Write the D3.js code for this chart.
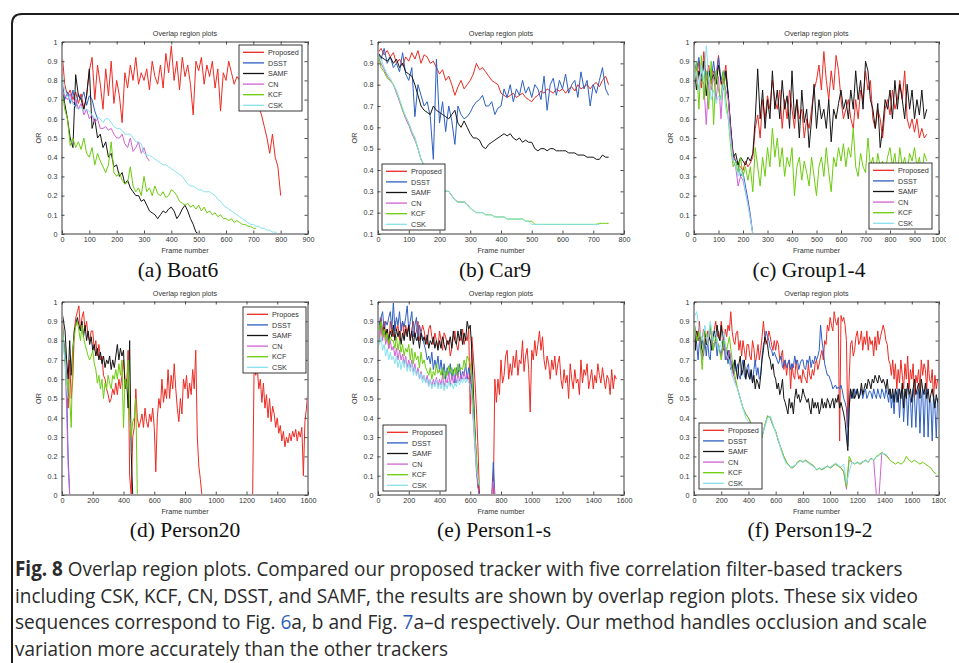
<!DOCTYPE html>
<html><head><meta charset="utf-8">
<script src="https://cdn.jsdelivr.net/npm/d3@7"></script>
<style>html,body{margin:0;padding:0;background:#fff;}svg{display:block;}</style>
</head><body><svg id="fig" width="959" height="663"></svg>
<script>
// ---------------- DATA ----------------
const seriesNames = ["Proposed","DSST","SAMF","CN","KCF","CSK"];
const seriesNamesD = ["Propoes","DSST","SAMF","CN","KCF","CSK"];
const yTicks01 = [0,0.1,0.2,0.3,0.4,0.5,0.6,0.7,0.8,0.9,1];
const yTicksCar9 = [0.1,0.2,0.3,0.4,0.5,0.6,0.7,0.8,0.9,1];
const xTicks900 = [0,100,200,300,400,500,600,700,800,900];
const xTicks800 = [0,100,200,300,400,500,600,700,800];
const xTicks1000 = [0,100,200,300,400,500,600,700,800,900,1000];
const xTicks1600 = [0,200,400,600,800,1000,1200,1400,1600];
const xTicks1800 = [0,200,400,600,800,1000,1200,1400,1600,1800];
const panelCaptions = ["(a) Boat6","(b) Car9","(c) Group1-4","(d) Person20","(e) Person1-s","(f) Person19-2"];
const frameStep = 10;       // frames between samples
const frameStepSmooth = 20; // for smooth series in Person19-2

// (a) Boat6
const boat6Proposed = [.95,.78,.72,.75,.70,.74,.68,.73,.65,.72,
.85,.92,.70,.88,.78,.65,.86,.72,.90,.68,
.80,.72,.58,.84,.76,.88,.80,.92,.78,.84,
.80,.86,.75,.90,.82,.78,.88,.76,.94,.84,
.98,.80,.90,.75,.92,.82,.88,.78,.62,.90,
.85,.92,.78,.88,.82,.90,.76,.86,.64,.84,
.80,.90,.84,.78,.82,.80,.76,.78,.74,.72,
.70,.68,.66,.62,.56,.50,.42,.52,.40,.35,.20];
const boat6DSST = [.80,.70,.74,.68,.75,.66,.73,.70,.74,.67,.72,.70,.64,.60];
const boat6SAMF = [.75,.68,.60,.50,.45,.83,.72,.70,.65,.72,
.86,.55,.60,.50,.52,.45,.48,.40,.42,.35,
.36,.30,.32,.26,.28,.24,.22,.20,.20,.17,
.18,.15,.12,.11,.10,.08,.10,.12,.11,.13,
.14,.12,.08,.10,.13,.15,.12,.08,.05,.01,0];
const boat6CN = [.75,.72,.70,.73,.68,.70,.65,.68,.62,.65,
.60,.62,.58,.60,.55,.55,.56,.54,.55,.52,
.50,.50,.52,.47,.45,.50,.43,.45,.48,.42,.45,.40,.38];
const boat6KCF = [.75,.65,.60,.46,.50,.45,.48,.44,.50,.42,
.40,.45,.36,.42,.38,.35,.32,.36,.48,.32,
.30,.32,.28,.26,.27,.35,.25,.22,.24,.20,
.30,.22,.24,.20,.25,.21,.20,.22,.19,.20,
.23,.22,.20,.17,.16,.15,.16,.14,.15,.13,
.15,.12,.14,.11,.12,.10,.11,.09,.10,.08,
.08,.07,.08,.06,.07,.06,.05,.05,.04,.04,.03,.03];
const boat6CSK = [.85,.75,.72,.70,.68,.66,.65,.66,.64,.65,
.64,.62,.60,.61,.60,.58,.60,.60,.58,.56,
.55,.55,.54,.52,.52,.52,.50,.48,.48,.47,
.42,.41,.41,.40,.39,.38,.37,.36,.36,.35,
.34,.33,.32,.31,.30,.28,.26,.25,.25,.24,
.23,.23,.22,.22,.22,.21,.20,.18,.17,.15,
.14,.13,.12,.11,.10,.09,.08,.07,.06,.05,
.05,.04,.04,.03,.03,.02,.02,.01,.01,0,0];

// (b) Car9
const car9Proposed = [.95,.97,.94,.96,.93,.95,.90,.92,.89,.93,
.91,.95,.92,.96,.90,.94,.93,.90,.91,.88,
.85,.87,.82,.84,.80,.75,.79,.82,.78,.80,
.82,.85,.90,.87,.88,.86,.84,.82,.81,.80,
.76,.75,.74,.75,.76,.74,.75,.76,.74,.73,
.72,.74,.75,.77,.76,.78,.77,.76,.78,.77,
.78,.76,.78,.79,.77,.80,.78,.79,.80,.78,
.80,.81,.79,.82,.84,.80];
const car9DSST = [.95,.92,.97,.90,.93,.88,.90,.86,.95,.85,
.82,.88,.65,.80,.75,.70,.72,.65,.45,.92,
.62,.72,.58,.70,.63,.52,.70,.66,.64,.65,
.67,.70,.72,.73,.75,.70,.70,.72,.66,.69,
.70,.78,.74,.80,.72,.78,.75,.82,.76,.79,
.74,.80,.78,.73,.84,.68,.80,.83,.75,.82,
.78,.85,.76,.80,.82,.74,.86,.78,.82,.70,
.80,.76,.82,.88,.78,.75];
const car9SAMF = [.95,.93,.92,.91,.93,.90,.92,.88,.90,.86,
.85,.84,.80,.75,.70,.68,.67,.66,.70,.68,
.67,.66,.65,.64,.66,.68,.62,.60,.63,.60,
.57,.55,.55,.54,.51,.50,.52,.53,.54,.55,
.56,.57,.56,.57,.55,.54,.55,.53,.54,.53,
.53,.50,.49,.50,.50,.49,.50,.50,.49,.49,
.49,.49,.48,.48,.48,.47,.47,.47,.46,.46,
.46,.45,.45,.47,.46,.46];
const car9CN = [.93,.90,.87,.84,.82,.80,.76,.72,.68,.64,
.61,.57,.54,.50,.45,.42,.40,.37,.35,.33,
.32,.31,.30,.30,.28,.26,.25,.25,.25,.24,.22];
const car9KCF = [.95,.88,.86,.83,.82,.80,.77,.73,.68,.65,
.62,.58,.55,.50,.45,.42,.40,.37,.35,.33,
.32,.31,.30,.30,.28,.26,.25,.25,.25,.24,
.22,.21,.20,.20,.20,.19,.19,.19,.18,.18,
.18,.18,.17,.17,.17,.17,.17,.17,.16,.16,
.16,.145,.145,.145,.145,.145,.145,.145,.145,.145,
.145,.145,.145,.145,.145,.145,.145,.145,.145,.145,
.145,.145,.15,.15,.15,.15];
const car9CSK = [.93,.92,.88,.85,.83,.80,.77,.73,.69,.65,
.62,.58,.55,.50,.45,.42,.40,.37,.35,.33,
.32,.31,.30,.30,.28,.26,.25,.25,.25,.24,
.22,.21,.20,.20,.20,.19,.19,.19,.18,.18,
.18,.18,.17,.17,.17,.17,.17,.17,.16,.16,
.145,.145,.145,.145,.145,.145,.145,.145,.145,.145,
.145,.145,.145,.145,.145,.145,.145,.145,.145,.145,
.145,.145,.145];

// (c) Group1-4
const groupProposed = [.85,.80,.90,.76,.95,.80,.88,.78,.85,.82,
.93,.78,.80,.88,.70,.55,.42,.38,.36,.35,
.33,.38,.35,.37,.40,.55,.62,.50,.70,.60,
.72,.65,.80,.70,.65,.75,.55,.70,.60,.75,
.65,.55,.70,.60,.65,.50,.60,.55,.65,.75,
.80,.88,.75,.95,.80,.70,.85,.75,.93,.85,
.70,.60,.65,.70,.60,.55,.70,.60,.75,.70,
.85,.75,.80,.60,.55,.65,.60,.50,.65,.70,
.62,.75,.65,.70,.80,.70,.85,.60,.55,.60,
.53,.60,.50,.55,.50,.52];
const groupDSST = [.90,.85,.92,.80,.88,.82,.85,.80,.90,.78,
.92,.80,.85,.82,.72,.55,.40,.38,.36,.30,
.32,.25,.18,.10,0];
const groupSAMF = [.88,.75,.85,.80,.90,.72,.85,.80,.83,.78,
.88,.80,.75,.85,.72,.55,.40,.42,.36,.40,
.38,.36,.40,.38,.42,.60,.86,.60,.75,.55,
.70,.60,.85,.65,.75,.60,.80,.65,.72,.55,
.85,.60,.70,.50,.75,.58,.65,.45,.60,.78,
.55,.70,.60,.65,.55,.70,.48,.65,.60,.68,
.75,.65,.70,.60,.75,.65,.85,.70,.80,.65,
.90,.85,.70,.65,.55,.68,.45,.55,.70,.65,
.75,.60,.80,.65,.78,.70,.60,.78,.65,.75,
.60,.70,.62,.75,.60,.65];
const groupCN = [.85,.80,.75,.82,.78,.57,.80,.75,.82,.70,
.82,.60,.80,.75,.70,.52,.38,.35,.25,.30,
.28,.22,.16,.08,0];
const groupKCF = [.75,.90,.65,.93,.70,.85,.65,.90,.57,.85,
.75,.70,.85,.70,.60,.45,.35,.38,.32,.40,
.30,.35,.28,.35,.22,.45,.35,.25,.40,.30,
.45,.35,.55,.40,.50,.35,.45,.30,.40,.35,
.45,.20,.35,.40,.28,.38,.32,.25,.40,.30,
.20,.35,.40,.30,.45,.32,.22,.40,.35,.45,
.38,.47,.35,.45,.40,.55,.35,.30,.42,.35,
.32,.50,.35,.40,.30,.42,.35,.38,.32,.40,
.45,.35,.42,.30,.45,.35,.40,.32,.42,.38,
.45,.35,.40,.30,.42,.38];
const groupCSK = [.80,.85,.75,.88,.80,.98,.82,.70,.75,.68,
.72,.70,.78,.65,.60,.48,.38,.36,.30,.34,
.30,.22,.15,.08,0];

// (d) Person20
const person20Proposed = [.95,.80,.70,.60,.45,.70,.50,.60,.85,.92,
.95,.98,.85,.92,.95,.85,.90,.82,.80,.85,
.85,.75,.80,.72,.78,.70,.72,.62,.60,.55,
.52,.48,.50,.55,.52,.58,.52,.60,.55,.62,
.70,.60,.55,.75,.10,0,.30,.35,.55,.40,
.35,.38,.42,.35,.45,.38,.35,.42,.38,.45,
.35,.12,.40,.50,.45,.60,.48,.55,.50,.65,
.50,.62,.55,.68,.55,.45,.38,.50,.42,.60,
.55,.62,.50,.58,.52,.65,.55,.75,.30,.15,
.08,0,0,0,0,0,0,0,0,0,
0,0,0,0,0,0,0,0,0,0,
0,0,0,0,0,0,0,0,0,0,
0,0,0,0,0,.70,.62,.66,.55,.60,
.48,.58,.45,.52,.40,.50,.38,.46,.42,.35,
.40,.32,.36,.28,.33,.25,.30,.27,.32,.28,
.33,.30,.34,.28,.33,.30,.35,.10,.38,.45,.55];
const person20DSST = [.90,.80,.75,.55,.20,0];
const person20SAMF = [.95,.90,.85,.70,.60,.80,.62,.75,.85,.88,
.92,.88,.85,.90,.82,.88,.80,.85,.78,.82,
.75,.78,.72,.76,.70,.74,.68,.72,.66,.70,
.68,.72,.65,.70,.66,.72,.78,.70,.76,.72,
.75,.55,.60,.45,.80,.22,0];
const person20CN = [.88,.78,.70,.45,.15,0];
const person20KCF = [.90,.80,.70,.55,.60,.50,.35,.75,.82,.88,
.90,.85,.80,.88,.82,.78,.75,.72,.70,.72,
.75,.68,.65,.58,.62,.55,.60,.50,.58,.55,
.62,.58,.55,.62,.60,.65,.60,.68,.62,.70,
.35,.60,.55,.70,.40,.30,.38,.40,.50,0];
const person20CSK = [.90,.75,.70,.55,.50];

// (e) Person1-s
const person1Proposed = [.88,.80,.92,.85,.90,.82,.86,.76,.90,.84,
.82,.90,.85,.88,.80,.86,.90,.82,.88,.84,
.88,.80,.86,.90,.82,.85,.90,.80,.84,.88,
.85,.80,.78,.86,.88,.82,.78,.84,.80,.76,
.85,.80,.75,.84,.82,.78,.80,.72,.76,.82,
.85,.78,.75,.82,.80,.86,.78,.82,.80,.86,
.42,.82,.72,.60,.45,.25,0,0,0,0,
0,0,0,0,0,0,.60,.48,.60,.52,
.70,.58,.62,.72,.75,.60,.68,.62,.72,.66,
.75,.62,.70,.68,.80,.64,.72,.76,.65,.43,
.75,.70,.80,.72,.78,.85,.75,.82,.70,.65,
.72,.68,.60,.70,.65,.72,.62,.68,.72,.60,
.55,.65,.58,.62,.50,.68,.60,.55,.65,.58,
.60,.52,.70,.58,.65,.62,.68,.55,.60,.65,
.55,.62,.58,.68,.62,.58,.66,.60,.55,.62,
.60,.52,.65,.55,.62,.60];
const person1DSST = [.95,.88,.92,.95,.85,.90,.88,.92,.95,.86,
1.0,.85,.92,.88,.95,.85,.90,.87,.92,.98,
.85,.90,.95,.82,.88,.92,.80,.88,.84,.82,
.78,.75,.70,.72,.68,.74,.65,.70,.66,.72,
.64,.70,.62,.68,.60,.66,.62,.68,.60,.65,
.58,.66,.62,.68,.60,.64,.62,.68,.60,.66,
.62,.55,.45,.30,.15,.05,0,0,0,0,
0,0,0,0,0,.17,0];
const person1SAMF = [.92,.85,.88,.82,.87,.83,.86,.80,.85,.82,
.88,.80,.86,.82,.85,.78,.84,.80,.86,.82,
.88,.80,.85,.78,.84,.80,.82,.76,.84,.80,
.82,.78,.83,.76,.80,.78,.82,.76,.80,.75,
.80,.76,.82,.78,.75,.80,.78,.82,.76,.85,
.80,.78,.85,.80,.86,.78,.84,.80,.90,.86,
.88,.75,.55,.35,.18,.05,0];
const person1CN = [.90,.83,.87,.80,.85,.78,.82,.76,.80,.75,
.77,.72,.76,.70,.75,.70,.73,.68,.72,.66,
.70,.66,.70,.64,.68,.62,.66,.60,.64,.60,
.62,.58,.62,.57,.60,.56,.60,.57,.61,.56,
.60,.57,.62,.56,.60,.58,.63,.57,.62,.58,
.62,.58,.63,.59,.62,.60,.64,.60,.63,.60,
.58,.50,.38,.25,.12,.04,0,0,0,0,
0,0,0,0,0,.07,0];
const person1KCF = [.92,.85,.90,.82,.86,.80,.84,.78,.82,.80,
.80,.76,.82,.75,.80,.74,.78,.72,.76,.74,
.78,.70,.76,.68,.74,.70,.72,.66,.74,.68,
.70,.66,.64,.62,.66,.60,.64,.62,.68,.63,
.65,.62,.66,.60,.64,.62,.67,.63,.66,.62,
.66,.62,.68,.64,.66,.65,.70,.66,.72,.70,
.68,.62,.48,.32,.20,.10,.05];
const person1CSK = [.88,.78,.82,.75,.78,.72,.76,.70,.74,.70,
.72,.68,.72,.66,.70,.65,.70,.66,.70,.64,
.68,.64,.68,.62,.66,.62,.64,.60,.63,.58,
.62,.58,.60,.56,.60,.55,.58,.56,.60,.55,
.58,.55,.59,.54,.58,.55,.59,.56,.58,.55,
.58,.56,.60,.57,.60,.58,.61,.58,.60,.58,
.57,.50,.40,.28,.15,.08,.05];

// (f) Person19-2
const person19Proposed = [.90,.75,.85,.82,.90,.78,.80,.86,.82,.78,
.85,.80,.88,.82,.80,.86,.90,.82,.85,.80,
.90,.84,.80,.86,.82,.88,.85,.95,.85,.80,
.78,.84,.85,.75,.80,.72,.80,.75,.70,.78,
.78,.72,.70,.80,.76,.68,.72,.78,.70,.75,
.82,.90,.82,.78,.80,.85,.82,.78,.75,.80,
.75,.80,.78,.70,.72,.75,.65,.70,.62,.68,
.70,.55,.68,.62,.60,.70,.64,.60,.62,.58,
.65,.62,.60,.58,.68,.62,.60,.65,.62,.68,
.70,.65,.68,.72,.75,.70,.80,.78,.88,.85,
.92,.88,.85,.95,.90,.88,.92,.28,.93,.90,
.92,.88,.80,.35,.60,.78,.80,.72,.75,.82,
.85,.78,.80,.85,.75,.82,.78,.85,.75,.82,
.78,.80,.72,.82,.75,.85,.78,.82,.85,.88,
.85,.80,.78,.70,.68,.62,.70,.60,.68,.55,
.65,.58,.70,.62,.55,.68,.60,.72,.55,.65,
.60,.68,.50,.62,.58,.65,.55,.70,.62,.68,
.65,.55,.70,.60,.58,.65,.50,.62,.55,.60];
const person19DSST = [.90,.85,.78,.70,.80,.75,.82,.75,.80,.72,
.80,.72,.70,.85,.75,.78,.80,.72,.78,.75,
.72,.78,.80,.70,.74,.68,.75,.70,.65,.68,
.70,.64,.68,.62,.60,.66,.70,.62,.60,.66,
.68,.60,.64,.58,.65,.70,.62,.66,.60,.62,
.72,.78,.80,.85,.82,.80,.76,.75,.72,.74,
.72,.70,.68,.70,.72,.66,.68,.70,.66,.68,
.70,.65,.68,.66,.72,.68,.70,.65,.68,.70,
.70,.66,.65,.70,.68,.72,.66,.70,.68,.72,
.70,.72,.75,.88,.80,.75,.68,.65,.62,.62,
.60,.58,.55,.56,.57,.55,.56,.55,.57,.54,
.50,.48,.45,.25,.45,.55,.52,.50,.55,.52,
.55,.50,.52,.55,.50,.53,.55,.50,.52,.54,
.53,.50,.55,.52,.50,.55,.52,.50,.55,.53,
.50,.55,.52,.48,.55,.45,.52,.42,.55,.48,
.55,.40,.52,.55,.38,.50,.55,.36,.52,.50,
.35,.55,.50,.35,.52,.55,.32,.50,.55,.30,
.52,.55,.30,.50,.48,.28,.52,.45,.30,.50];
const person19SAMF = [.92,.75,.85,.80,.82,.78,.75,.72,.85,.78,
.78,.82,.80,.75,.82,.85,.80,.88,.82,.80,
.88,.80,.75,.78,.70,.75,.72,.65,.68,.62,
.70,.65,.60,.68,.72,.62,.65,.70,.60,.65,
.62,.60,.65,.58,.62,.55,.60,.58,.55,.62,
.70,.75,.82,.80,.78,.72,.70,.65,.68,.62,
.60,.55,.58,.52,.55,.60,.50,.48,.45,.42,
.50,.45,.48,.42,.50,.55,.50,.52,.48,.50,
.55,.52,.50,.48,.50,.45,.42,.50,.45,.48,
.45,.48,.42,.45,.50,.45,.48,.45,.50,.48,
.45,.48,.50,.45,.50,.48,.52,.45,.48,.45,
.42,.38,.30,.23,.45,.55,.50,.55,.50,.52,
.55,.50,.52,.58,.52,.55,.58,.55,.60,.58,
.55,.60,.58,.62,.60,.58,.62,.60,.58,.60,
.58,.55,.60,.52,.55,.50,.55,.48,.55,.52,
.48,.55,.50,.58,.45,.55,.50,.58,.52,.55,
.48,.55,.60,.52,.55,.58,.50,.60,.55,.52,
.58,.50,.55,.48,.52,.55,.50,.45,.52,.48];
const person19CN = [.88,.82,.80,.70,.82,.80,.85,.78,.80,.76,
.72,.78,.70,.75,.65,.60,.55,.50,.45,.42,
.40,.37,.34,.31,.28,.30,.36,.41,.40,.36,
.33,.28,.24,.20,.17,.15,.14,.15,.17,.18,
.17,.18,.17,.16,.15,.13,.14,.13,.14,.15,
.14,.15,.16,.15,.14,.12,.03,.18,.17,.16,
.17,.16,.17,.18,.17,.19,.18,0,0,.22,
.21,.20,.18];
const person19KCF = [.90,.80,.85,.65,.85,.82,.88,.75,.82,.78,
.70,.80,.75,.82,.70,.62,.55,.50,.45,.42,
.40,.37,.34,.31,.28,.30,.36,.41,.40,.36,
.33,.28,.24,.20,.17,.15,.14,.15,.17,.18,
.17,.18,.17,.16,.15,.13,.14,.13,.14,.15,
.14,.15,.16,.15,.14,.12,.04,.20,.17,.16,
.17,.16,.17,.18,.17,.19,.18,.20,.21,.22,
.21,.20,.18,.17,.16,.17,.16,.17,.20,.18,
.17,.18,.17,.16,.17,.16,.15,.14,.12,.11];
const person19CSK = [.92,.95,.85,.80,.88,.78,.90,.80,.85,.75,
.78,.85,.72,.70,.62,.58,.55,.50,.45,.40,
.38,.36,.34,.30,.29,.31,.35,.40,.41,.37,
.32,.29,.23,.19,.16,.15,.145,.155,.165,.175,
.175,.175,.165,.155,.145,.135,.135,.135,.145,.145,
.145,.155,.165,.155,.145,.16,.06,.12,.17,.165,
.165,.165,.175,.175,.175,.185,.185,.195,.205,.215,
.215,.205];

// ---------------- COLOURS / LAYOUT ----------------
const COLORS = {Proposed:"#ec2a22", DSST:"#2d5fc4", SAMF:"#141414", CN:"#d062d4", KCF:"#6ccc0c", CSK:"#86e2ee"};
const LAYOUT = [
 {left:62, right:308, top:42, bottom:234, capX:178, capY:277, leg:[239,45], clipRight:null},
 {left:378,right:624, top:42, bottom:234, capX:495, capY:277, leg:[382,164], clipRight:null},
 {left:694,right:939, top:42, bottom:234, capX:809, capY:277, leg:[869,163], clipRight:946},
 {left:62, right:308, top:302,bottom:495, capX:185, capY:537, leg:[243,307], clipRight:null},
 {left:378,right:624, top:302,bottom:495, capX:494, capY:537, leg:[383,425], clipRight:null},
 {left:694,right:939, top:302,bottom:495, capX:810, capY:537, leg:[699,423], clipRight:946}
];

function mk(names, arrays, steps){ return names.map((n,i)=>({key:seriesNames[i], label:n, values:arrays[i], step:steps?steps[i]:frameStep})); }

const PANELS = [
 {xMax:900, xTicks:xTicks900, yMin:0, yTicks:yTicks01,
  series:mk(seriesNames,[boat6Proposed,boat6DSST,boat6SAMF,boat6CN,boat6KCF,boat6CSK])},
 {xMax:800, xTicks:xTicks800, yMin:0.1, yTicks:yTicksCar9,
  series:mk(seriesNames,[car9Proposed,car9DSST,car9SAMF,car9CN,car9KCF,car9CSK])},
 {xMax:1000, xTicks:xTicks1000, yMin:0, yTicks:yTicks01,
  series:mk(seriesNames,[groupProposed,groupDSST,groupSAMF,groupCN,groupKCF,groupCSK])},
 {xMax:1600, xTicks:xTicks1600, yMin:0, yTicks:yTicks01,
  series:mk(seriesNamesD,[person20Proposed,person20DSST,person20SAMF,person20CN,person20KCF,person20CSK])},
 {xMax:1600, xTicks:xTicks1600, yMin:0, yTicks:yTicks01,
  series:mk(seriesNames,[person1Proposed,person1DSST,person1SAMF,person1CN,person1KCF,person1CSK])},
 {xMax:1800, xTicks:xTicks1800, yMin:0, yTicks:yTicks01,
  series:mk(seriesNames,[person19Proposed,person19DSST,person19SAMF,person19CN,person19KCF,person19CSK],
   [frameStep,frameStep,frameStep,frameStepSmooth,frameStepSmooth,frameStepSmooth])}
];

// ---------------- DRAW ----------------
const svg = d3.select("#fig");
const defs = svg.append("defs");
const AX_FONT = "'Liberation Sans', Arial, sans-serif";
const TXT = "#333";

// outer frame with rounded corner
svg.append("path").attr("d","M12,700 L12,24 Q12,14 22,14 L990,14")
  .attr("fill","none").attr("stroke","#1c1c1c").attr("stroke-width",2);

PANELS.forEach((p,pi)=>{
  const L = LAYOUT[pi];
  const x = d3.scaleLinear().domain([0,p.xMax]).range([L.left,L.right]);
  const y = d3.scaleLinear().domain([p.yMin,1]).range([L.bottom,L.top]);
  const g = svg.append("g");
  if (L.clipRight){
    defs.append("clipPath").attr("id","cr"+pi).append("rect").attr("x",0).attr("y",0).attr("width",L.clipRight).attr("height",663);
    g.attr("clip-path","url(#cr"+pi+")");
  }
  // plot-area clip, inset so values lying exactly on the axes stay hidden behind them
  defs.append("clipPath").attr("id","pa"+pi).append("rect")
    .attr("x",L.left+1).attr("y",L.top+1).attr("width",L.right-L.left-2).attr("height",L.bottom-L.top-2);

  // title
  g.append("text").attr("x",(L.left+L.right)/2).attr("y",L.top-6).attr("text-anchor","middle")
    .attr("font-family",AX_FONT).attr("font-size",7.2).attr("fill",TXT).text("Overlap region plots");

  // series
  const lg = g.append("g").attr("clip-path","url(#pa"+pi+")");
  const line = d3.line().x(d=>x(d[0])).y(d=>y(d[1]));
  p.series.forEach(s=>{
    const pts = s.values.map((v,i)=>[i*s.step, v]);
    lg.append("path").attr("d",line(pts)).attr("fill","none")
      .attr("stroke",COLORS[s.key]).attr("stroke-width",1).attr("stroke-linejoin","round");
  });

  // axes (inward ticks on all four sides)
  const fmtY = d => (d===0?"0":d===1?"1":d3.format(".1f")(d));
  const styleAxis = sel => {
    sel.selectAll("path.domain").attr("stroke","#3a3a3a").attr("stroke-width",1);
    sel.selectAll(".tick line").attr("stroke","#3a3a3a").attr("stroke-width",0.9);
    sel.selectAll(".tick text").attr("fill",TXT).attr("font-family",AX_FONT).attr("font-size",7.2);
  };
  g.append("g").attr("transform",`translate(0,${L.bottom-0.5})`)
    .call(d3.axisBottom(x).tickValues(p.xTicks).tickFormat(d3.format("d")).tickSizeInner(-3).tickSizeOuter(0).tickPadding(3))
    .call(styleAxis);
  g.append("g").attr("transform",`translate(0,${L.top-0.5})`)
    .call(d3.axisTop(x).tickValues(p.xTicks).tickFormat("").tickSizeInner(-3).tickSizeOuter(0))
    .call(styleAxis);
  g.append("g").attr("transform",`translate(${L.left-0.5},0)`)
    .call(d3.axisLeft(y).tickValues(p.yTicks).tickFormat(fmtY).tickSizeInner(-3).tickSizeOuter(0).tickPadding(4))
    .call(styleAxis);
  g.append("g").attr("transform",`translate(${L.right-0.5},0)`)
    .call(d3.axisRight(y).tickValues(p.yTicks).tickFormat("").tickSizeInner(-3).tickSizeOuter(0))
    .call(styleAxis);

  // axis labels
  g.append("text").attr("x",(L.left+L.right)/2).attr("y",L.bottom+19).attr("text-anchor","middle")
    .attr("font-family",AX_FONT).attr("font-size",7.2).attr("fill",TXT).text("Frame number");
  g.append("text").attr("transform",`translate(${L.left-21},${(L.top+L.bottom)/2}) rotate(-90)`)
    .attr("text-anchor","middle").attr("font-family",AX_FONT).attr("font-size",7.2).attr("fill",TXT).text("OR");

  // legend
  const [lx,ly] = L.leg;
  const lw = 63, lh = 66, rowH = 10.6;
  const leg = g.append("g");
  leg.append("rect").attr("x",lx).attr("y",ly).attr("width",lw).attr("height",lh)
    .attr("fill","#fff").attr("stroke","#222").attr("stroke-width",0.9);
  p.series.forEach((s,i)=>{
    const cy = ly + 7.3 + i*rowH;
    leg.append("line").attr("x1",lx+4).attr("x2",lx+25).attr("y1",cy).attr("y2",cy)
      .attr("stroke",COLORS[s.key]).attr("stroke-width",1.3);
    leg.append("text").attr("x",lx+29).attr("y",cy+2.6).attr("font-family",AX_FONT)
      .attr("font-size",7.2).attr("fill",TXT).text(s.label);
  });

  // panel caption
  svg.append("text").attr("x",L.capX).attr("y",L.capY).attr("text-anchor","middle")
    .attr("font-family","'Liberation Serif','Times New Roman',serif").attr("font-size",21.5)
    .attr("fill","#111").text(panelCaptions[pi]);
});

// figure caption (each line horizontally condensed to the reference width)
const capLines = [
  {len:888, parts:[["Fig. 8",true,false],[" Overlap region plots. Compared our proposed tracker with five correlation filter-based trackers",false,false]]},
  {len:903, parts:[["including CSK, KCF, CN, DSST, and SAMF, the results are shown by overlap region plots. These six video",false,false]]},
  {len:913, parts:[["sequences correspond to Fig. ",false,false],["6",false,true],["a, b and Fig. ",false,false],["7",false,true],["a–d respectively. Our method handles occlusion and scale",false,false]]},
  {len:433, parts:[["variation more accurately than the other trackers",false,false]]}
];
const capY0 = 576, capDY = 26.5;
capLines.forEach((ln,i)=>{
  const t = svg.append("text").attr("x",0).attr("y",0)
    .attr("font-family","'Open Sans','Liberation Sans',sans-serif").attr("font-size",20.5)
    .attr("fill","#2b2b2b");
  ln.parts.forEach(([txt,bold,link])=>{
    const ts = t.append("tspan").text(txt);
    if (bold) ts.attr("font-weight","bold");
    if (link) ts.attr("fill","#2f5fb8");
  });
  const natural = t.node().getComputedTextLength();
  const sx = natural > 0 ? ln.len / natural : 1;
  t.attr("transform",`translate(15,${capY0+i*capDY}) scale(${sx},1)`);
});
</script></body></html>
